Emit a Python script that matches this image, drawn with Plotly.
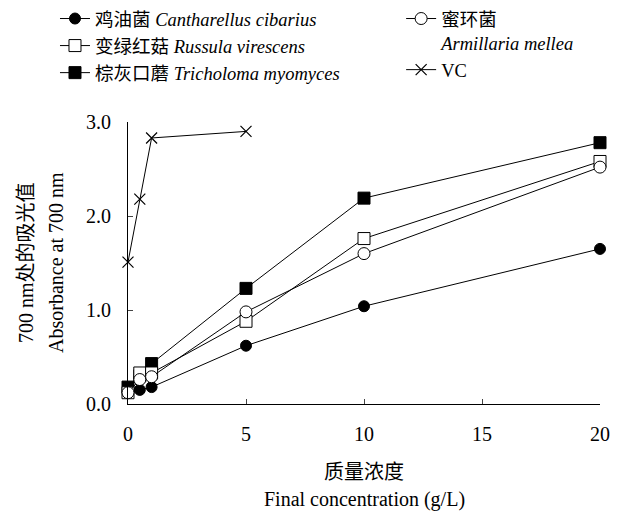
import plotly.graph_objects as go

conc = [0, 0.5, 1, 5, 10, 20]
vc_conc = [0, 0.5, 1, 5]

cantharellus = [0.16, 0.15, 0.18, 0.62, 1.04, 1.65]
tricholoma = [0.18, 0.30, 0.43, 1.23, 2.19, 2.78]
russula = [0.12, 0.33, 0.33, 0.88, 1.76, 2.58]
armillaria = [0.12, 0.26, 0.29, 0.98, 1.60, 2.52]
vc = [1.51, 2.18, 2.83, 2.90]

x_ticks = [0, 5, 10, 15, 20]
x_tick_labels = ["0", "5", "10", "15", "20"]
y_ticks = [0.0, 1.0, 2.0, 3.0]
y_tick_labels = ["0.0", "1.0", "2.0", "3.0"]

FONT = "Liberation Serif, Noto Sans CJK SC, serif"

fig = go.Figure()
line = dict(color="black", width=1)

fig.add_trace(go.Scatter(
    x=conc, y=cantharellus, mode="lines+markers", legend="legend", legendrank=1,
    name="鸡油菌 <i>Cantharellus cibarius</i>", line=line,
    marker=dict(symbol="circle", size=11, color="black", line=dict(color="black", width=1)),
    cliponaxis=False))
fig.add_trace(go.Scatter(
    x=conc, y=tricholoma, mode="lines+markers", legend="legend", legendrank=3,
    name="棕灰口蘑 <i>Tricholoma myomyces</i>", line=line,
    marker=dict(symbol="square", size=12, color="black", line=dict(color="black", width=1)),
    cliponaxis=False))
fig.add_trace(go.Scatter(
    x=conc, y=russula, mode="lines+markers", legend="legend", legendrank=2,
    name="变绿红菇 <i>Russula virescens</i>", line=line,
    marker=dict(symbol="square", size=12, color="white", line=dict(color="black", width=1)),
    cliponaxis=False))
fig.add_trace(go.Scatter(
    x=conc, y=armillaria, mode="lines+markers", legend="legend2", legendrank=1,
    name="蜜环菌<br><i>Armillaria mellea</i>", line=line,
    marker=dict(symbol="circle", size=12, color="white", line=dict(color="black", width=1)),
    cliponaxis=False))
fig.add_trace(go.Scatter(
    x=vc_conc, y=vc, mode="lines+markers", legend="legend2", legendrank=2,
    name="VC", line=line,
    marker=dict(symbol="x-thin", size=11, color="black", line=dict(color="black", width=1.2)),
    cliponaxis=False))

legend_font = dict(family=FONT, size=18.5, color="black")
fig.update_layout(
    template="none",
    width=620, height=513,
    margin=dict(l=128, r=20, t=122, b=109, autoexpand=False),
    paper_bgcolor="white", plot_bgcolor="white",
    font=dict(family=FONT, size=20, color="black"),
    legend=dict(xref="container", yref="container", x=0.0887, y=1.0, xanchor="left", yanchor="top",
                font=legend_font, bgcolor="rgba(0,0,0,0)", tracegroupgap=0, traceorder="normal"),
    legend2=dict(xref="container", yref="container", x=0.647, y=1.0, xanchor="left", yanchor="top",
                 font=legend_font, bgcolor="rgba(0,0,0,0)", tracegroupgap=0, traceorder="normal",
                 valign="top"),
    xaxis=dict(range=[0, 20], tickvals=x_ticks, ticktext=x_tick_labels,
               ticks="inside", ticklen=5,
               showline=True, linecolor="black", linewidth=1, showgrid=False,
               zeroline=False, tickfont=dict(family=FONT, size=20),
               ticklabelstandoff=12, automargin=False),
    yaxis=dict(range=[0, 3], tickvals=y_ticks, ticktext=y_tick_labels, ticks="inside",
               ticklen=5, showline=True, linecolor="black", linewidth=1, showgrid=False,
               zeroline=False, tickfont=dict(family=FONT, size=20),
               ticklabelstandoff=12, automargin=False),
    showlegend=True,
)

fig.add_annotation(text="质量浓度", xref="paper", yref="paper", x=0.5, y=0,
                   xanchor="center", yanchor="middle",
                   yshift=-68, showarrow=False, font=dict(family=FONT, size=20))
fig.add_annotation(text="Final concentration (g/L)", xref="paper", yref="paper", x=0.5, y=0,
                   xanchor="center", yanchor="middle",
                   yshift=-95, showarrow=False, font=dict(family=FONT, size=20))
fig.add_annotation(text="700 nm处的吸光值", xref="paper", yref="paper", x=0, y=0.5,
                   xanchor="center", yanchor="middle",
                   xshift=-102, textangle=-90, showarrow=False, font=dict(family=FONT, size=20))
fig.add_annotation(text="Absorbance at 700 nm", xref="paper", yref="paper", x=0, y=0.5,
                   xanchor="center", yanchor="middle",
                   xshift=-72, textangle=-90, showarrow=False, font=dict(family=FONT, size=20))

fig.write_html("out.html", config={"displayModeBar": False},
               post_script="document.body.style.margin='0';document.body.style.overflow='hidden';")
